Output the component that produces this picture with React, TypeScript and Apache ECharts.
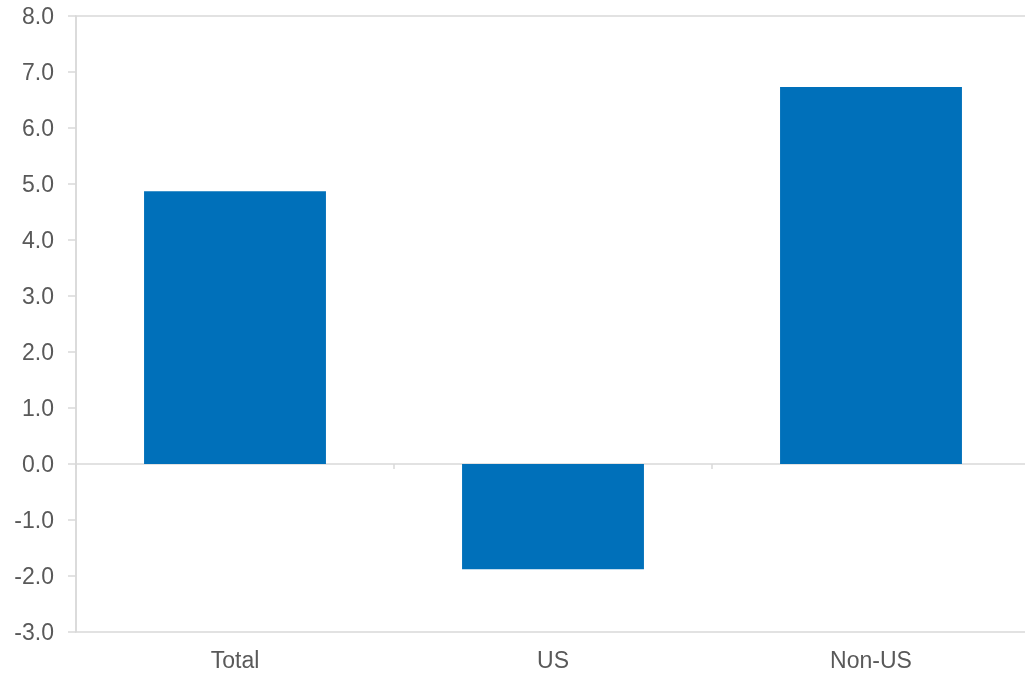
import React, { useEffect, useRef } from "react";
import * as echarts from "echarts";

const categories = ["Total", "US", "Non-US"];
const values = [4.87, -1.88, 6.73];
const yMin = -3;
const yMax = 8;
const yInterval = 1;

export default function App() {
  const ref = useRef<HTMLDivElement>(null);
  useEffect(() => {
    if (!ref.current) return;
    const chart = echarts.init(ref.current, null, { renderer: "svg" });
    const lineColor = "#d9d9d9";
    const textColor = "#595959";
    const font = "'Liberation Sans', Arial, sans-serif";
    chart.setOption({
      animation: false,
      grid: {
        left: 76,
        top: 16,
        bottom: 41,
        width: 954,
        containLabel: false,
        outerBoundsMode: "none",
        show: true,
        borderColor: lineColor,
        borderWidth: 1.5,
        backgroundColor: "transparent",
      },
      xAxis: [
        {
          type: "category",
          data: categories,
          position: "bottom",
          axisLine: { show: false, onZero: false },
          axisTick: { show: false },
          axisLabel: {
            color: textColor,
            fontSize: 23,
            fontFamily: font,
            margin: 16,
          },
          splitLine: { show: false },
        },
        {
          type: "category",
          data: categories,
          position: "bottom",
          axisLine: { show: true, onZero: true, lineStyle: { color: lineColor, width: 1.5 } },
          axisTick: { show: true, length: 5, lineStyle: { color: lineColor, width: 1.5 } },
          axisLabel: { show: false },
          splitLine: { show: false },
        },
      ],
      yAxis: {
        type: "value",
        min: yMin,
        max: yMax,
        interval: yInterval,
        axisLine: { show: true, lineStyle: { color: lineColor, width: 1.5 } },
        axisTick: { show: true, length: 8, lineStyle: { color: lineColor, width: 1.5 } },
        axisLabel: {
          color: textColor,
          fontSize: 23,
          fontFamily: font,
          margin: 22,
          padding: [3, 0, 0, 0],
          formatter: (v: number) => v.toFixed(1),
        },
        splitLine: { show: false },
      },
      series: [
        {
          type: "bar",
          data: values,
          barWidth: "57.2%",
          itemStyle: { color: "#0070ba" },
        },
      ],
    });
    return () => chart.dispose();
  }, []);
  return (
    <div
      ref={ref}
      style={{ position: "fixed", left: 0, top: 0, width: 1025, height: 673 }}
    />
  );
}
